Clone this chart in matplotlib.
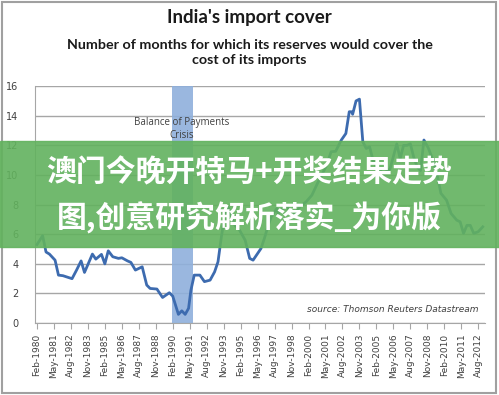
import numpy as np
import matplotlib
matplotlib.use("Agg")
import matplotlib.pyplot as plt
from matplotlib.patches import Rectangle

# months (YYYY-MM) and import cover values
dates = ["1980-02", "1980-07", "1980-10", "1981-01", "1981-06", "1981-09", "1982-01",
         "1982-09", "1983-01", "1983-05", "1983-08", "1984-03", "1984-06", "1984-11",
         "1985-02", "1985-05", "1985-09", "1986-02", "1986-05", "1986-10", "1987-01",
         "1987-05", "1987-11", "1988-03", "1988-06", "1988-12", "1989-05", "1989-11",
         "1990-02", "1990-07", "1990-10", "1991-01", "1991-04", "1991-06", "1991-09",
         "1992-02", "1992-06", "1992-11", "1993-03", "1993-06", "1993-09", "1993-12",
         "1994-03", "1994-06", "1994-09", "1995-01", "1995-06", "1995-10", "1996-01",
         "1996-05", "1996-08", "1996-11", "1997-02", "1997-05", "1997-10", "1997-11",
         "1998-02", "1998-07", "1998-11", "1999-03", "1999-07", "1999-12", "2000-05",
         "2000-10", "2001-01", "2001-06", "2001-10", "2002-02", "2002-07", "2002-11",
         "2003-02", "2003-04", "2003-05", "2003-08", "2003-11", "2004-02", "2004-05",
         "2004-08", "2004-11", "2005-02", "2005-08", "2006-02", "2006-08", "2006-11",
         "2007-02", "2007-05", "2007-08", "2007-11", "2008-02", "2008-05", "2008-08",
         "2008-12", "2009-04", "2009-08", "2009-11", "2010-04", "2010-08", "2011-01",
         "2011-04", "2011-07", "2011-10", "2012-01", "2012-04", "2012-08", "2012-12"]
cover = [5.3, 5.9, 4.8, 4.66, 4.25, 3.24, 3.2,
         3.0, 3.58, 4.2, 3.42, 4.66, 4.32, 4.64,
         4.0, 4.88, 4.48, 4.37, 4.41, 4.2, 4.1,
         3.58, 3.8, 2.57, 2.34, 2.3, 1.73, 2.05,
         1.82, 0.59, 0.83, 0.59, 1.0, 2.2, 3.24,
         3.24, 2.8, 2.9, 3.46, 4.14, 5.83, 7.29,
         7.85, 7.17, 6.6, 6.28, 5.6, 4.37, 4.25,
         4.7, 5.04, 5.72, 6.5, 7.17, 7.74, 7.4,
         7.63, 7.97, 7.17, 7.5, 7.9, 8.2, 8.64,
         9.45, 9.88, 10.67, 11.57, 11.6, 12.36, 12.8,
         14.27, 14.27, 14.1, 15.0, 15.12, 12.24, 11.79,
         11.9, 11.0, 10.55, 10.1, 10.4, 12.1, 11.1,
         12.0, 12.0, 12.1, 11.2, 10.55, 10.3, 12.36,
         11.8, 11.0, 9.9, 8.76, 8.3, 7.4, 6.95,
         6.84, 6.06, 6.6, 6.6, 6.06, 6.17, 6.5]

tick_labels = ["Feb-1980", "May-1981", "Aug-1982", "Nov-1983", "Feb-1985", "May-1986",
               "Aug-1987", "Nov-1988", "Feb-1990", "May-1991", "Aug-1992", "Nov-1993",
               "Feb-1995", "May-1996", "Aug-1997", "Nov-1998", "Feb-2000", "May-2001",
               "Aug-2002", "Nov-2003", "Feb-2005", "May-2006", "Aug-2007", "Nov-2008",
               "Feb-2010", "May-2011", "Aug-2012"]

crisis = ("1990-01", "1991-08")

mon = {"Jan": 1, "Feb": 2, "Mar": 3, "Apr": 4, "May": 5, "Jun": 6, "Jul": 7,
       "Aug": 8, "Sep": 9, "Oct": 10, "Nov": 11, "Dec": 12}


def months(s):
    y, m = s.split("-")
    return (int(y) - 1980) * 12 + int(m) - 2


def label_months(s):
    m, y = s.split("-")
    return (int(y) - 1980) * 12 + mon[m] - 2


x = np.array([months(d) for d in dates])
y = np.array(cover)

fig = plt.figure(figsize=(4.99, 3.95), dpi=100)
ax = fig.add_axes([0.070, 0.182, 0.902, 0.600])

ax.axvspan(months(crisis[0]), months(crisis[1]), color="#8fb0dc", alpha=0.9, lw=0, zorder=1)
ax.plot(x, y, color="#3d6baf", lw=2, zorder=3)

ax.set_xlim(-1.8, 396)
ax.set_ylim(0, 16)
ax.set_yticks(range(0, 17, 2))
ax.yaxis.grid(True, color="#a6a6a6", lw=1)
ax.set_axisbelow(True)
ax.tick_params(axis="y", length=0, labelsize=7, colors="#404040", pad=12)

ticks = [label_months(t) for t in tick_labels]
ax.set_xticks(ticks)
ax.set_xticklabels(tick_labels, rotation=90, fontsize=6.5, color="#404040")
ax.tick_params(axis="x", length=4, color="#a6a6a6", direction="out")

for s in ["top", "right"]:
    ax.spines[s].set_visible(False)
for s in ["left", "bottom"]:
    ax.spines[s].set_color("#a6a6a6")

ax.text(months("1990-10"), 13.1, "Balance of Payments\nCrisis", ha="center", va="center",
        fontsize=7, color="#404040", family="Open Sans", linespacing=1.3, zorder=4)
ax.text(390, 0.95, "source: Thomson Reuters Datastream", ha="right", va="center",
        fontsize=6.5, style="italic", color="#404040", zorder=4)

fig.text(0.5, 0.955, "India's import cover", ha="center", va="center",
         fontsize=13.5, fontweight="bold", family="Lato", color="#1a1a1a")
fig.text(0.5, 0.868, "Number of months for which its reserves would cover the\ncost of its imports",
         ha="center", va="center", fontsize=10.3, fontweight="bold", family="Lato",
         color="#1a1a1a", linespacing=1.3)

# frame around the picture
fig.patches.append(Rectangle((0.004, 0.006), 0.99, 0.988, transform=fig.transFigure,
                             fill=False, ec="#a0a0a0", lw=1.5))

# green banner with text on top
fig.patches.append(Rectangle((0, 1 - 247 / 395), 1, 106 / 395, transform=fig.transFigure,
                             color="#62b25e", alpha=0.9, zorder=10))
fig.text(0.5, 1 - 172 / 395, "澳门今晚开特马+开奖结果走势", ha="center", va="center",
         fontsize=21.5, fontweight="bold", color="white",
         family=["Noto Sans CJK SC", "DejaVu Sans"], zorder=11)
fig.text(0.5, 1 - 218 / 395, "图,创意研究解析落实_为你版", ha="center", va="center",
         fontsize=21.5, fontweight="bold", color="white",
         family=["Noto Sans CJK SC", "DejaVu Sans"], zorder=11)

fig.savefig("out.png", dpi=100)
